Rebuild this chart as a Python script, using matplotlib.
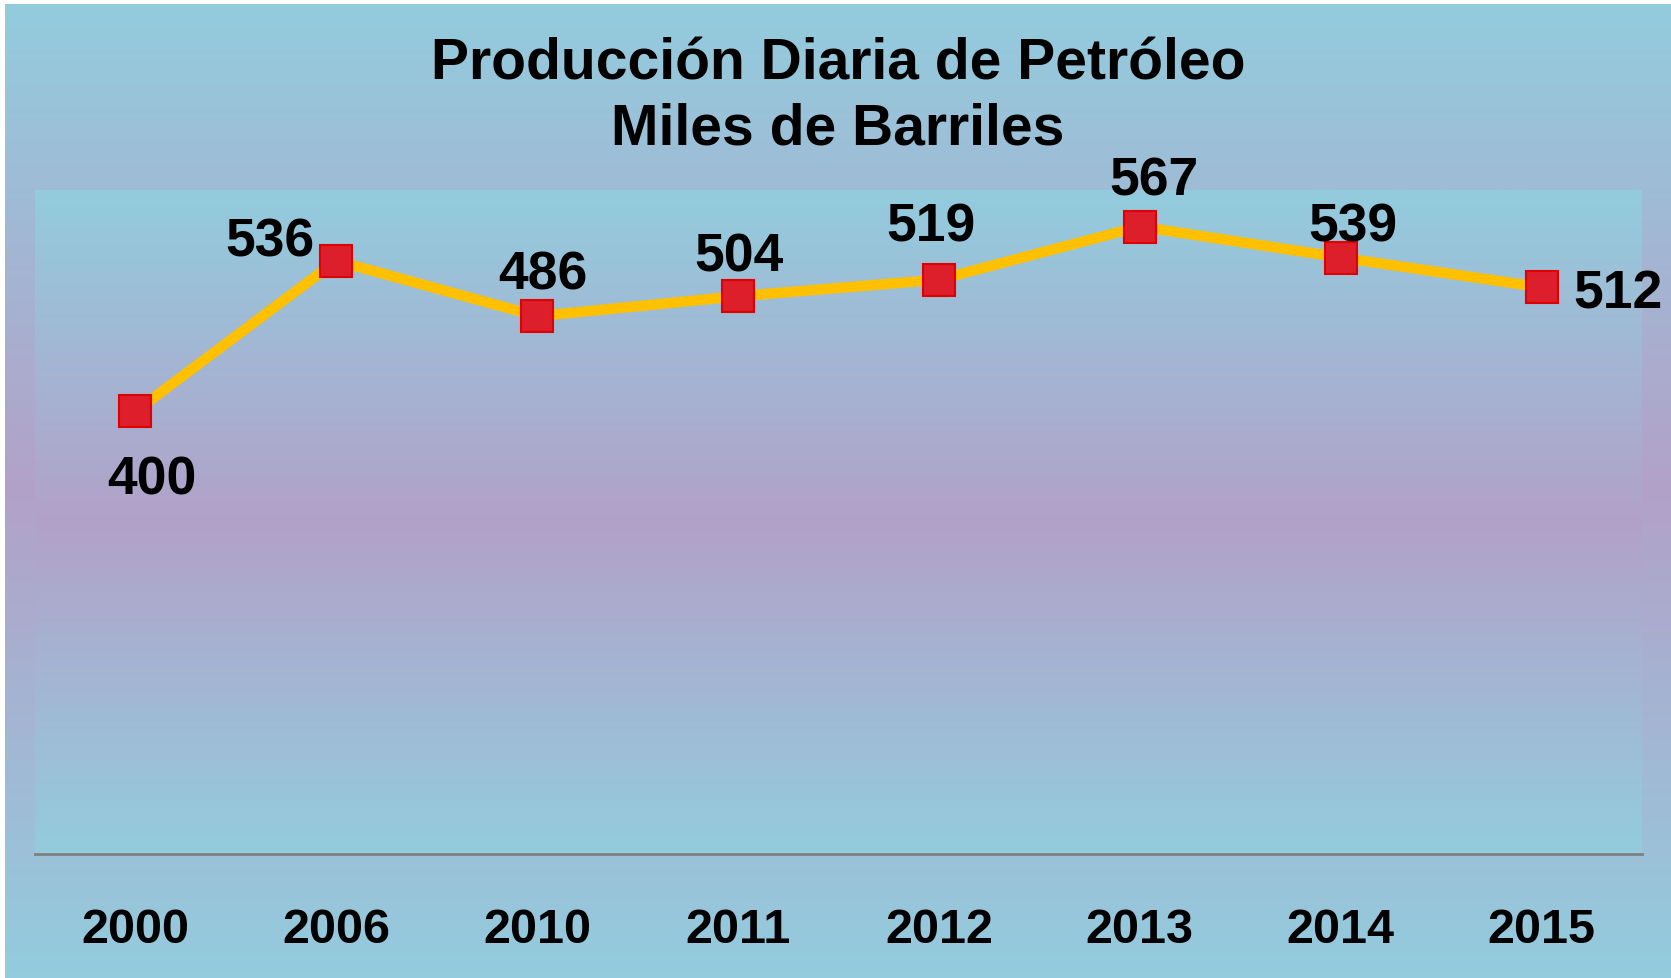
import numpy as np
import matplotlib
matplotlib.use("Agg")
import matplotlib.pyplot as plt
from matplotlib.colors import LinearSegmentedColormap

# Data
years = ["2000", "2006", "2010", "2011", "2012", "2013", "2014", "2015"]
production = [400, 536, 486, 504, 519, 567, 539, 512]

# label offsets in pixels (dx, dy) relative to each point
label_offsets = [(17, -68), (-66, 19), (6, 42), (1, 40), (-8, 53), (14, 46), (12, 31), (76, -6)]

plt.rcParams["font.family"] = ["Liberation Sans", "DejaVu Sans"]
plt.rcParams["font.weight"] = "bold"

W, H = 1671, 979
fig = plt.figure(figsize=(W / 100, H / 100), dpi=100)
fig.patch.set_facecolor("white")

# gradient colours: blue -> purple -> blue
blue = "#93CCDE"
purple = "#B2A1C8"
cmap = LinearSegmentedColormap.from_list("bg", [blue, purple, blue])
grad = np.linspace(0, 1, 256).reshape(-1, 1)

# figure background
bg = fig.add_axes([5 / W, 0, 1 - 5 / W, 1 - 5 / H])
bg.imshow(grad, cmap=cmap, aspect="auto", extent=(0, 1, 0, 1))
bg.axis("off")

# plot area
ax = fig.add_axes([35 / W, 1 - 855 / H, (1642 - 35) / W, (855 - 191) / H])
x = np.arange(len(years))
ax.imshow(grad, cmap=cmap, aspect="auto", extent=(-0.5, len(years) - 0.5, 0, 600), zorder=0)
ax.plot(x, production, color="#FFC000", lw=7.5, marker="s", ms=22.5,
        mfc="#DC1F2A", mec="#E00000", mew=1.5, zorder=3)

for xi, v, (dx, dy) in zip(x, production, label_offsets):
    ax.annotate(str(v), (xi, v), xytext=(dx, dy), textcoords="offset pixels",
                ha="center", va="center", fontsize=38.5, fontweight="bold", color="black",
                annotation_clip=False, zorder=4)

ax.set_xlim(-0.5, len(years) - 0.5)
ax.set_ylim(0, 600)
ax.set_xticks(x)
ax.set_xticklabels(years, fontsize=35, fontweight="bold")
ax.tick_params(axis="x", length=0, pad=38)
ax.set_yticks([])
for s in ["top", "left", "right"]:
    ax.spines[s].set_visible(False)
ax.spines["bottom"].set_color("#7F7F7F")
ax.spines["bottom"].set_linewidth(2)

fig.text(838 / W, 1 - 97 / H, "Producción Diaria de Petróleo\nMiles de Barriles",
         ha="center", va="center", fontsize=41, fontweight="bold", linespacing=1.27)

fig.savefig("out.png", dpi=100)
